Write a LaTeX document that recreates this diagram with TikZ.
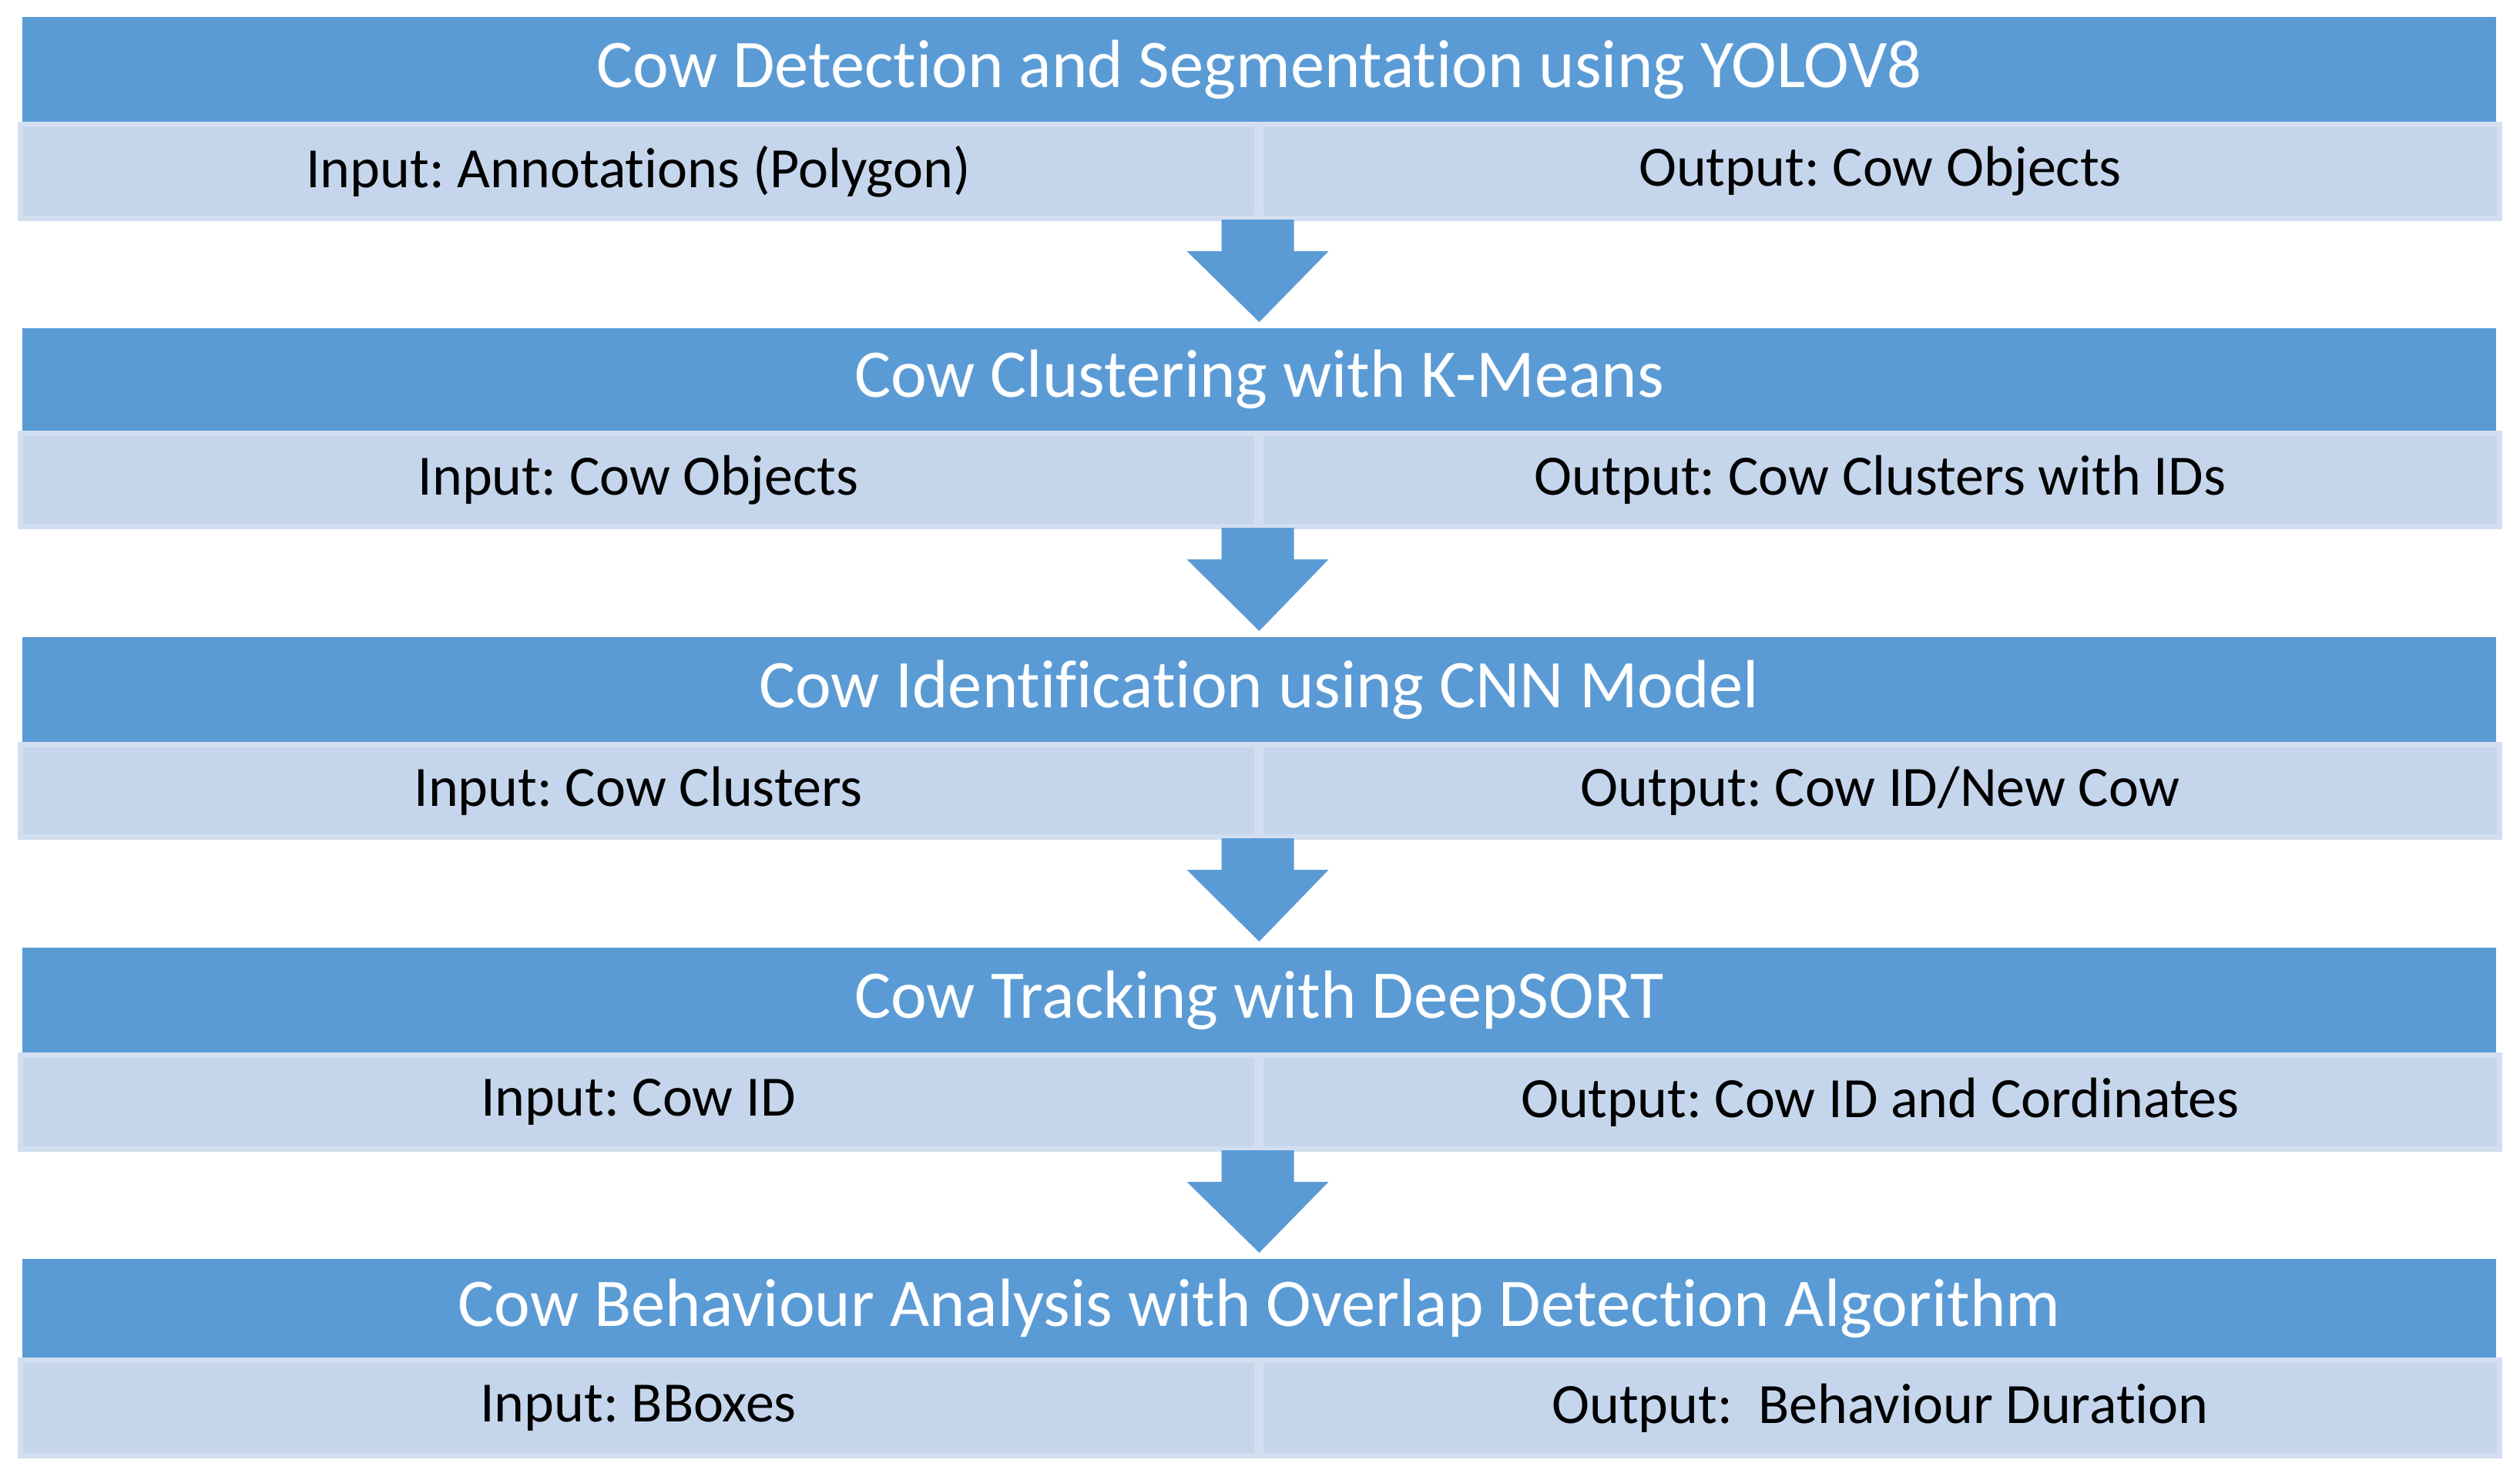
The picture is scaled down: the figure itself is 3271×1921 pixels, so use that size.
\documentclass[tikz,border=0pt]{standalone}
\usepackage{fontspec}
\setmainfont{Carlito}[RawFeature={-liga;-clig;-calt;-dlig}]
\usetikzlibrary{calc}
\frenchspacing
\definecolor{hdrblue}{HTML}{5B9BD5}
\definecolor{bandfill}{HTML}{C5D6EC}
\definecolor{bandline}{HTML}{D3DFF0}
\tikzset{
  hdr/.style={rectangle, fill=hdrblue, draw=none, inner sep=0, outer sep=0,
    minimum width=3211pt, text=white, font=\fontsize{88.5}{100}\selectfont},
  cell/.style={rectangle, fill=bandfill, draw=bandline, line width=7pt, inner sep=0, outer sep=0,
    text=black, font=\fontsize{74}{86}\selectfont},
  lcell/.style={cell, minimum width=1605pt},
  rcell/.style={cell, minimum width=1608pt},
  blockarrow/.style={fill=hdrblue, draw=none}
}
\begin{document}
\begin{tikzpicture}[x=1pt,y=-1pt]
\useasboundingbox[fill=white] (0,0) rectangle (3271,1921);
% row 1
\node[lcell, minimum height=122pt] (l1) at (828.5,222.5) {Input: Annotations (Polygon)};
\node[rcell, minimum height=122pt] (r1) at (2440.5,222.5) {Output: Cow Objects};
\node[hdr, minimum height=136pt] (h1) at (1634.5,90) {Cow Detection and Segmentation using YOLOV8};
% row 2
\node[lcell, minimum height=121pt] (l2) at (828.5,623) {Input: Cow Objects};
\node[rcell, minimum height=121pt] (r2) at (2440.5,623) {Output: Cow Clusters with IDs};
\node[hdr, minimum height=133pt] (h2) at (1634.5,492.5) {Cow Clustering with K-Means};
% row 3
\node[lcell, minimum height=120pt] (l3) at (828.5,1026.5) {Input: Cow Clusters};
\node[rcell, minimum height=120pt] (r3) at (2440.5,1026.5) {Output: Cow ID/New Cow};
\node[hdr, minimum height=136pt] (h3) at (1634.5,895) {Cow Identification using CNN Model};
% row 4
\node[lcell, minimum height=122pt] (l4) at (828.5,1430.5) {Input: Cow ID};
\node[rcell, minimum height=122pt] (r4) at (2440.5,1430.5) {Output: Cow ID and Cordinates};
\node[hdr, minimum height=136pt] (h4) at (1634.5,1298) {Cow Tracking with DeepSORT};
% row 5
\node[lcell, minimum height=124pt] (l5) at (828.5,1827.5) {Input: BBoxes};
\node[rcell, minimum height=124pt] (r5) at (2440.5,1827.5) {Output:\ \ Behaviour Duration};
\node[hdr, minimum height=128pt] (h5) at (1634.5,1698) {Cow Behaviour Analysis with Overlap Detection Algorithm};
% block arrows
\foreach \a/\b in {l1/h2, l2/h3, l3/h4, l4/h5}{
  \coordinate (s) at ($(\a.south east)+(1.5,3.5)$);
  \fill[blockarrow] ($(s)+(-47,-2)$) -- ($(s)+(47,-2)$) -- ($(s)+(47,39)$) -- ($(s)+(92,39)$)
    -- ($(\b.north)+(0,-8)$) -- ($(s)+(-92,39)$) -- ($(s)+(-47,39)$) -- cycle;
}
\end{tikzpicture}
\end{document}
